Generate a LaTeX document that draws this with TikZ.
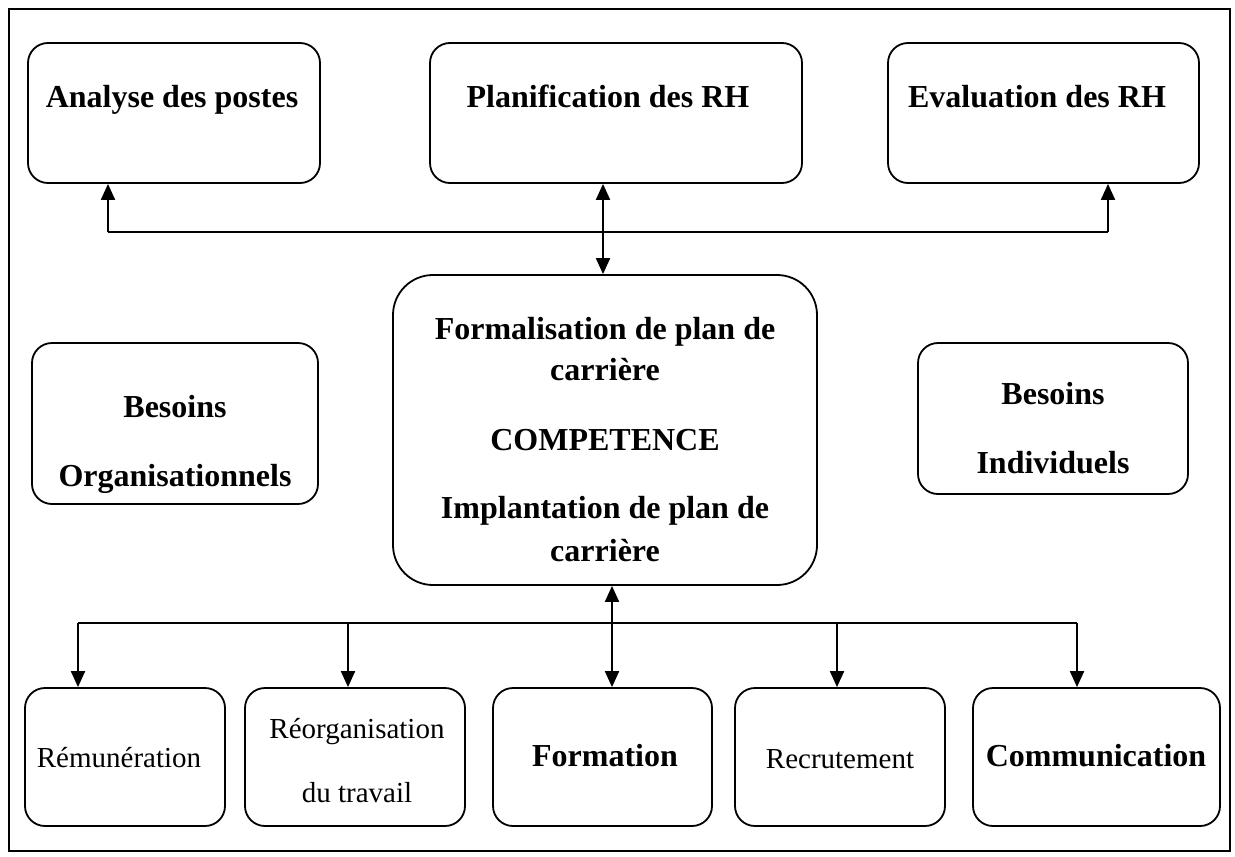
\documentclass[tikz,border=0pt]{standalone}
\usepackage{fontspec}
\setmainfont{Liberation Serif}
\usetikzlibrary{arrows.meta,fit}
\begin{document}
\begin{tikzpicture}[x=0.5pt,y=-0.5pt,
  box/.style={draw, line width=0.9pt, rounded corners=10pt, inner sep=0pt},
  bigbox/.style={box, rounded corners=20pt},
  lbl/.style={font=\bfseries\fontsize{16}{19}\selectfont, inner sep=0pt, anchor=base},
  plainlbl/.style={font=\fontsize{14.5}{17}\selectfont, inner sep=0pt, anchor=base},
  wire/.style={line width=1pt},
  link/.style={line width=1pt, -{Triangle[length=8pt,width=7pt]}},
  dlink/.style={line width=1pt, {Triangle[length=8pt,width=7pt]}-{Triangle[length=8pt,width=7pt]}}]
\useasboundingbox (0,0) rectangle (1235,856);
\draw[line width=1pt] (9,9) rectangle (1230,851);

% top row
\node[box, fit={(28,43) (320,183)}] (ana) {};
\node[box, fit={(430,43) (802,183)}] (plan) {};
\node[box, fit={(888,43) (1199,183)}] (eval) {};
\node[lbl] (tana) at (172,107) {Analyse des postes};
\node[lbl] (tplan) at (608,107) {Planification des RH};
\node[lbl] (teval) at (1037,107) {Evaluation des RH};

% centre
\node[bigbox, fit={(393,275) (817,585)}] (comp) {};
\node[lbl] (c1) at (605,339) {Formalisation de plan de};
\node[lbl] (c2) at (605,380) {carrière};
\node[lbl] (c3) at (605,450) {COMPETENCE};
\node[lbl] (c4) at (605,518) {Implantation de plan de};
\node[lbl] (c5) at (605,561) {carrière};

% side boxes
\node[box, fit={(32,343) (318,504)}] (org) {};
\node[lbl] (o1) at (175,417) {Besoins};
\node[lbl] (o2) at (175,486) {Organisationnels};
\node[box, fit={(918,343) (1188,494)}] (ind) {};
\node[lbl] (i1) at (1053,404) {Besoins};
\node[lbl] (i2) at (1053,473) {Individuels};

% bottom row
\node[box, fit={(25,688) (225,826)}] (rem) {};
\node[box, fit={(245,688) (465,826)}] (reo) {};
\node[box, fit={(493,688) (712,826)}] (form) {};
\node[box, fit={(735,688) (945,826)}] (rec) {};
\node[box, fit={(973,688) (1220,826)}] (com) {};
\node[plainlbl] (trem) at (119,767) {Rémunération};
\node[plainlbl] (treo1) at (357,738) {Réorganisation};
\node[plainlbl] (treo2) at (357,802) {du travail};
\node[lbl] (tform) at (605,766) {Formation};
\node[plainlbl] (trec) at (840,768) {Recrutement};
\node[lbl] (tcom) at (1096,766) {Communication};

% upper connectors
\coordinate (ul) at (108,232);
\coordinate (um) at (603,232);
\coordinate (ur) at (1108,232);
\draw[wire] (ul) -- (ur);
\draw[link] (ul) -- (ul |- ana.south);
\draw[link] (ur) -- (ur |- eval.south);
\draw[dlink] (um |- plan.south) -- (um |- comp.north);

% lower connectors
\coordinate (ll) at (78,623);
\coordinate (l2) at (348,623);
\coordinate (lm) at (612,623);
\coordinate (l4) at (837,623);
\coordinate (lr) at (1077,623);
\draw[wire] (ll) -- (lr);
\draw[link] (ll) -- (ll |- rem.north);
\draw[link] (l2) -- (l2 |- reo.north);
\draw[link] (l4) -- (l4 |- rec.north);
\draw[link] (lr) -- (lr |- com.north);
\draw[dlink] (lm |- comp.south) -- (lm |- form.north);
\end{tikzpicture}
\end{document}
